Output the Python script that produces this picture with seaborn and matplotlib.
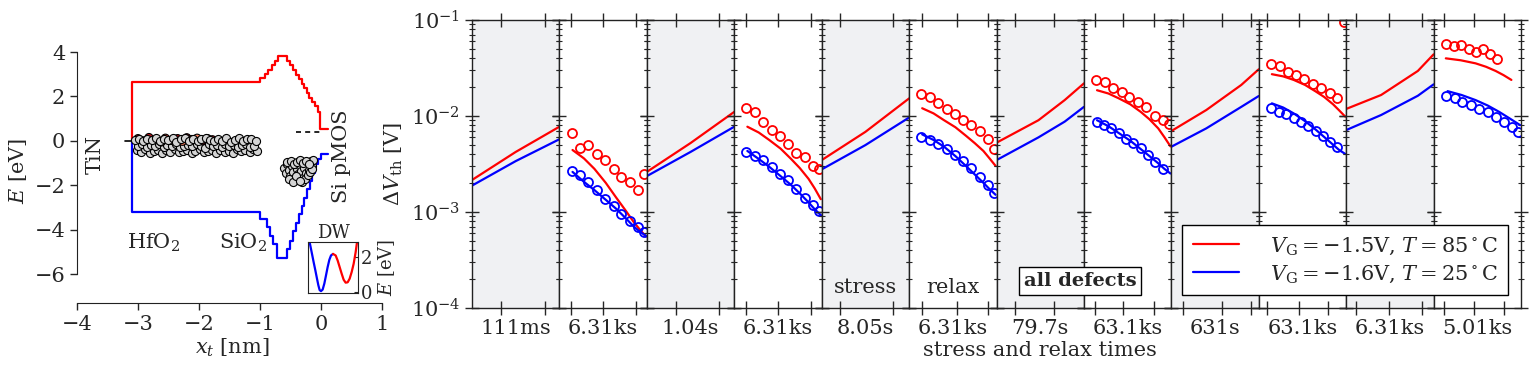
import numpy as np
import matplotlib
matplotlib.use("Agg")
import matplotlib.pyplot as plt
import seaborn as sns
from matplotlib.lines import Line2D

sns.set_style("ticks")
plt.rcParams['font.family'] = ['DejaVu Serif']
plt.rcParams['mathtext.fontset'] = 'dejavuserif'
plt.rcParams['font.size'] = 15
plt.rcParams['axes.edgecolor'] = '#222222'

RED = '#ff0000'
BLUE = '#0000ff'
GREY_BG = '#f0f1f3'

# ***** band diagram data ***** #
cb_x = [-3.10, -3.10, -1.00, -0.918, -0.864, -0.808, -0.754, -0.700, -0.562, -0.508, -0.454,
        -0.410, -0.361, -0.316, -0.274, -0.234, -0.192, -0.143, -0.098, -0.054, -0.016, 0.12]
cb_e = [0.0, 2.63, 2.81, 3.00, 3.20, 3.41, 3.60, 3.80, 3.60, 3.41, 3.20,
        2.96, 2.78, 2.55, 2.36, 2.15, 1.95, 1.76, 1.55, 1.28, 0.55, 0.55]
vb_x = [-3.10, -3.10, -1.00, -0.891, -0.836, -0.781, -0.727, -0.562, -0.508, -0.454, -0.410,
        -0.361, -0.316, -0.274, -0.234, -0.180, -0.143, -0.098, -0.044, 0.0, 0.12]
vb_e = [0.0, -3.20, -3.53, -3.90, -4.28, -4.65, -5.26, -4.88, -4.50, -4.05, -3.68,
        -3.30, -2.93, -2.55, -2.18, -1.80, -1.43, -1.05, -0.83, -0.57, -0.57]

# defects in HfO2 (three bands) and SiO2
hf_top_x = [-3.05, -2.98, -2.91, -2.85, -2.77, -2.70, -2.64, -2.57, -2.50, -2.43, -2.37, -2.29, -2.23, -2.16, -2.09,
            -2.02, -1.96, -1.89, -1.82, -1.75, -1.69, -1.62, -1.55, -1.48, -1.41, -1.35, -1.28, -1.21, -1.14, -1.07]
hf_top_e = [0.02, 0.10, -0.02, 0.08, 0.03, 0.14, 0.00, 0.09, 0.05, 0.13, -0.03, 0.08, 0.12, 0.01, 0.10,
            -0.01, 0.09, 0.13, 0.04, -0.02, 0.08, 0.01, 0.11, -0.04, 0.05, 0.12, 0.00, 0.07, 0.10, -0.02]
hf_mid_x = [-3.00, -2.93, -2.86, -2.79, -2.72, -2.65, -2.58, -2.52, -2.45, -2.38, -2.31, -2.24, -2.18, -2.11, -2.04,
            -1.97, -1.90, -1.84, -1.77, -1.70, -1.63, -1.57, -1.50, -1.43, -1.36, -1.30, -1.23, -1.16, -1.09]
hf_mid_e = [-0.22, -0.16, -0.27, -0.19, -0.24, -0.14, -0.29, -0.18, -0.23, -0.15, -0.28, -0.21, -0.17, -0.25, -0.13,
            -0.22, -0.30, -0.16, -0.24, -0.19, -0.28, -0.15, -0.23, -0.18, -0.27, -0.20, -0.14, -0.29, -0.22]
hf_low_x = [-3.02, -2.95, -2.88, -2.81, -2.74, -2.67, -2.60, -2.54, -2.47, -2.40, -2.33, -2.26, -2.19, -2.12, -2.06,
            -1.99, -1.92, -1.85, -1.79, -1.72, -1.65, -1.58, -1.51, -1.45, -1.38, -1.31, -1.24, -1.17, -1.11, -1.05]
hf_low_e = [-0.42, -0.50, -0.36, -0.53, -0.45, -0.39, -0.55, -0.43, -0.49, -0.36, -0.52, -0.46, -0.40, -0.54, -0.44,
            -0.37, -0.51, -0.47, -0.42, -0.56, -0.39, -0.50, -0.44, -0.53, -0.38, -0.47, -0.43, -0.52, -0.36, -0.45]
hf_act_x = [-3.00, -2.90, -2.82, -2.71, -2.62, -2.55, -2.46, -2.35, -2.27, -2.20, -2.12, -2.03, -1.95, -1.86, -1.78]
hf_act_e = [0.10, 0.00, 0.15, 0.05, -0.05, 0.12, 0.02, 0.10, -0.02, 0.14, 0.06, 0.12, 0.00, 0.10, 0.05]
hf_act_w = [0.9, 0.5, 0.8, 0.35, 0.95, 0.6, 0.3, 0.85, 0.45, 0.9, 0.7, 0.4, 0.95, 0.55, 0.8]
si_x = [-0.60, -0.58, -0.55, -0.52, -0.50, -0.47, -0.45, -0.42, -0.40, -0.38, -0.36, -0.33, -0.30, -0.28, -0.25,
        -0.22, -0.20, -0.17, -0.15, -0.13, -0.56, -0.49, -0.44, -0.39, -0.34, -0.31, -0.26, -0.21, -0.18, -0.14,
        -0.53, -0.46, -0.41, -0.35, -0.29, -0.24, -0.19]
si_e = [-1.20, -1.45, -1.05, -1.30, -1.60, -1.15, -1.40, -1.75, -1.25, -1.50, -1.10, -1.35, -1.65, -1.20, -1.45,
        -1.00, -1.30, -0.90, -1.15, -0.85, -0.95, -0.90, -1.05, -0.95, -0.85, -1.85, -1.70, -1.55, -1.40, -1.25,
        -1.70, -1.85, -1.60, -1.80, -1.00, -0.90, -1.05]

# double well inset
dw_blue_x = [0.033, 0.08, 0.113, 0.147, 0.18, 0.207, 0.233, 0.26, 0.293, 0.327, 0.36, 0.393, 0.427, 0.46, 0.50]
dw_blue_e = [2.86, 2.19, 1.71, 1.24, 0.76, 0.38, 0.10, 0.04, 0.13, 0.48, 0.95, 1.43, 1.85, 2.10, 2.19]
dw_red_x = [0.50, 0.553, 0.593, 0.633, 0.673, 0.713, 0.753, 0.793, 0.833, 0.873, 0.913, 0.953, 0.98]
dw_red_e = [2.19, 2.10, 1.81, 1.43, 1.05, 0.70, 0.53, 0.55, 0.76, 1.14, 1.62, 2.29, 2.86]

# ***** stress / relax data ***** #
panel_labels = ["111ms", "6.31ks", "1.04s", "6.31ks", "8.05s", "6.31ks",
                "79.7s", "63.1ks", "631s", "63.1ks", "6.31ks", "5.01ks"]

stress_x = [[0, 0.5, 1], [0, 0.5, 1], [0, 0.5, 1],
            [0, 0.48, 0.78, 1], [0, 0.4, 0.8, 1], [0, 0.4, 0.82, 1]]
stress_red = [[2.14e-3, 4.2e-3, 7.7e-3],
              [2.6e-3, 5.2e-3, 1.1e-2],
              [3.45e-3, 6.8e-3, 1.52e-2],
              [5.24e-3, 9.0e-3, 1.46e-2, 2.18e-2],
              [6.94e-3, 1.15e-2, 2.1e-2, 3.06e-2],
              [1.18e-2, 1.65e-2, 2.94e-2, 4.38e-2]]
stress_blue = [[1.87e-3, 3.37e-3, 5.7e-3],
               [2.35e-3, 4.2e-3, 7.7e-3],
               [2.76e-3, 4.95e-3, 9.6e-3],
               [3.45e-3, 5.96e-3, 8.7e-3, 1.24e-2],
               [4.76e-3, 7.4e-3, 1.24e-2, 1.61e-2],
               [7.1e-3, 1.02e-2, 1.62e-2, 2.13e-2]]

relax_x = [0.15, 0.28, 0.40, 0.53, 0.65, 0.75, 0.85, 0.92, 0.99]
relax_red_x = [relax_x, relax_x, relax_x, relax_x, relax_x, [0.14, 0.31, 0.48, 0.60, 0.71, 0.80, 0.89]]
relax_blue_x = [relax_x, relax_x, relax_x, relax_x, relax_x, [0.16, 0.32, 0.48, 0.62, 0.75, 0.87, 0.99]]
relax_red = [[4.4e-3, 3.6e-3, 2.8e-3, 2.0e-3, 1.4e-3, 1.05e-3, 7.8e-4, 6.5e-4, 5.5e-4],
             [7.7e-3, 6.7e-3, 5.6e-3, 4.55e-3, 3.55e-3, 2.85e-3, 2.2e-3, 1.75e-3, 1.35e-3],
             [1.2e-2, 1.06e-2, 9.0e-3, 7.6e-3, 6.2e-3, 5.2e-3, 4.3e-3, 3.6e-3, 3.0e-3],
             [1.85e-2, 1.71e-2, 1.52e-2, 1.32e-2, 1.1e-2, 9.2e-3, 7.4e-3, 6.0e-3, 4.8e-3],
             [2.72e-2, 2.58e-2, 2.37e-2, 2.1e-2, 1.8e-2, 1.57e-2, 1.32e-2, 1.14e-2, 9.8e-3],
             [3.98e-2, 3.8e-2, 3.53e-2, 3.25e-2, 2.94e-2, 2.66e-2, 2.37e-2]]
relax_blue = [[2.6e-3, 2.05e-3, 1.68e-3, 1.33e-3, 1.07e-3, 8.7e-4, 7.0e-4, 6.2e-4, 5.6e-4],
              [4.3e-3, 3.55e-3, 2.94e-3, 2.35e-3, 1.9e-3, 1.55e-3, 1.25e-3, 1.06e-3, 9.2e-4],
              [6.4e-3, 5.6e-3, 4.76e-3, 3.8e-3, 3.0e-3, 2.45e-3, 2.0e-3, 1.72e-3, 1.5e-3],
              [9.0e-3, 7.8e-3, 6.6e-3, 5.5e-3, 4.5e-3, 3.8e-3, 3.2e-3, 2.8e-3, 2.5e-3],
              [1.35e-2, 1.22e-2, 1.06e-2, 8.8e-3, 7.2e-3, 6.0e-3, 5.0e-3, 4.4e-3, 4.0e-3],
              [1.81e-2, 1.65e-2, 1.46e-2, 1.28e-2, 1.1e-2, 9.4e-3, 8.0e-3]]

# measured points
meas_x_a = [0.14, 0.24, 0.33, 0.43, 0.52, 0.62, 0.71, 0.81, 0.90, 0.97]
meas_x_b = [0.145, 0.23, 0.31, 0.40, 0.48, 0.56, 0.65, 0.73, 0.81, 0.90]
meas_red_x = [meas_x_a, meas_x_a, meas_x_a, meas_x_a, meas_x_a, meas_x_b[:8]]
meas_blue_x = [meas_x_a, meas_x_a, meas_x_a, meas_x_b, meas_x_b, meas_x_a]
meas_red = [[6.7e-3, 4.6e-3, 4.95e-3, 3.96e-3, 3.5e-3, 2.76e-3, 2.28e-3, 2.02e-3, 1.7e-3, 2.46e-3],
            [1.21e-2, 1.09e-2, 8.6e-3, 7.1e-3, 6.2e-3, 5.04e-3, 4.06e-3, 3.69e-3, 2.99e-3, 2.8e-3],
            [1.68e-2, 1.56e-2, 1.35e-2, 1.18e-2, 1.04e-2, 9.0e-3, 8.0e-3, 6.94e-3, 5.73e-3, 4.5e-3],
            [2.37e-2, 2.24e-2, 1.97e-2, 1.78e-2, 1.56e-2, 1.40e-2, 1.23e-2, 1.0e-2, 9.0e-3, 8.2e-3],
            [3.47e-2, 3.33e-2, 2.89e-2, 2.67e-2, 2.42e-2, 2.13e-2, 1.97e-2, 1.74e-2, 1.55e-2, 9.6e-2],
            [5.6e-2, 5.4e-2, 5.5e-2, 4.95e-2, 4.67e-2, 4.95e-2, 4.38e-2, 3.89e-2]]
meas_blue = [[2.63e-3, 2.39e-3, 2.03e-3, 1.69e-3, 1.37e-3, 1.14e-3, 9.4e-4, 8.0e-4, 7.0e-4, 6.2e-4],
             [4.22e-3, 3.8e-3, 3.45e-3, 2.94e-3, 2.5e-3, 2.14e-3, 1.71e-3, 1.38e-3, 1.17e-3, 1.02e-3],
             [6.05e-3, 5.6e-3, 5.07e-3, 4.5e-3, 3.9e-3, 3.4e-3, 2.86e-3, 2.31e-3, 1.89e-3, 1.57e-3],
             [8.7e-3, 8.0e-3, 7.4e-3, 6.6e-3, 5.8e-3, 5.24e-3, 4.58e-3, 3.9e-3, 3.3e-3, 2.76e-3],
             [1.2e-2, 1.1e-2, 1.04e-2, 9.4e-3, 8.6e-3, 7.8e-3, 7.0e-3, 6.15e-3, 5.37e-3, 4.69e-3],
             [1.62e-2, 1.52e-2, 1.4e-2, 1.3e-2, 1.18e-2, 1.09e-2, 9.8e-3, 8.7e-3, 7.7e-3, 6.8e-3]]

panel_ticks = [[0.33, 0.83], [0.13, 0.5, 0.88], [0.33, 0.83], [0.13, 0.5, 0.88],
               [0.21, 0.82], [0.145, 0.545, 0.905], [0.21, 0.66], [0.13, 0.45, 0.8],
               [0.13, 0.58, 0.91], [0.1, 0.46, 0.79], [0.11, 0.49, 0.87], [0.12, 0.46, 0.8]]

W, H = 1529, 376
fig = plt.figure(figsize=(W / 100, H / 100), dpi=100)

# ***** band diagram ***** #
ax0 = fig.add_axes([77 / W, 1 - 303 / H, 311 / W, 264.3 / H])
ax0.step(cb_x, cb_e, where='post', color=RED, lw=1.6)
ax0.step(vb_x, vb_e, where='post', color=BLUE, lw=1.6)
ax0.plot([-3.21, -3.12], [0, 0], color='black', lw=1.2)
ax0.plot([-0.41, 0.0], [0.42, 0.42], color='black', lw=1.2, ls=(0, (3, 2.5)))
sc_kw = dict(s=34, edgecolors='black', linewidths=0.8, zorder=3)
ax0.scatter(hf_low_x, hf_low_e, c='#d4d4d4', **sc_kw)
ax0.scatter(hf_mid_x, hf_mid_e, c='#d4d4d4', **sc_kw)
ax0.scatter(hf_act_x, hf_act_e, c=hf_act_w, cmap='Reds', vmin=0, vmax=1, **sc_kw)
ax0.scatter(hf_top_x, hf_top_e, c='#d4d4d4', **sc_kw)
ax0.scatter(si_x, si_e, c='#d4d4d4', **sc_kw)
ax0.set_xlim(-4, 1.1)
ax0.set_ylim(-7.3, 4.6)
ax0.set_xticks([-4, -3, -2, -1, 0, 1])
ax0.set_yticks([-6, -4, -2, 0, 2, 4])
ax0.spines['left'].set_bounds(-6, 4)
ax0.spines['bottom'].set_bounds(-4, 1)
sns.despine(ax=ax0)
ax0.tick_params(direction='out', length=5, width=1)
ax0.set_xlabel("$x_t$ [nm]", labelpad=2)
ax0.set_ylabel("$E$ [eV]", labelpad=4)
ax0.text(-3.70, -0.63, "TiN", rotation=90, ha='center', va='center')
ax0.text(0.34, -0.68, "Si pMOS", rotation=90, ha='center', va='center')
ax0.text(-2.75, -4.6, "HfO$_2$", ha='center', va='center')
ax0.text(-1.28, -4.6, "SiO$_2$", ha='center', va='center')

# inset: double well
axi = fig.add_axes([308 / W, 1 - 292.7 / H, 50 / W, 50.4 / H])
axi.plot(dw_blue_x, dw_blue_e, color=BLUE, lw=1.6)
axi.plot(dw_red_x, dw_red_e, color=RED, lw=1.6)
axi.set_xlim(0, 1)
axi.set_ylim(-0.05, 2.86)
axi.set_xticks([])
axi.set_yticks([0, 2])
axi.yaxis.tick_right()
axi.yaxis.set_label_position('right')
axi.tick_params(axis='y', direction='in', length=3, labelsize=13, pad=2)
axi.set_ylabel("$E$ [eV]", fontsize=13, labelpad=3)
axi.set_title("DW", fontsize=13, pad=2)

# ***** stress / relax panels ***** #
gs = fig.add_gridspec(1, 12, left=472 / W, right=1521 / W, bottom=1 - 307.5 / H, top=1 - 20 / H, wspace=0)
axes = [fig.add_subplot(gs[0, i]) for i in range(12)]
for i, ax in enumerate(axes):
    k = i // 2
    if i % 2 == 0:
        ax.set_facecolor(GREY_BG)
        ax.plot(stress_x[k], stress_red[k], color=RED, lw=1.6)
        ax.plot(stress_x[k], stress_blue[k], color=BLUE, lw=1.6)
    else:
        ax.set_facecolor('white')
        ax.plot(relax_red_x[k], relax_red[k], color=RED, lw=1.6)
        ax.plot(relax_blue_x[k], relax_blue[k], color=BLUE, lw=1.6)
        ax.plot(meas_red_x[k], meas_red[k], 'o', mfc='none', mec=RED, ms=6.5, mew=1.3)
        ax.plot(meas_blue_x[k], meas_blue[k], 'o', mfc='none', mec=BLUE, ms=6.5, mew=1.3)
    ax.set_yscale('log')
    ax.set_ylim(1e-4, 1e-1)
    ax.set_xlim(0, 1)
    ax.set_xticks(panel_ticks[i])
    ax.tick_params(which='both', direction='inout', left=True, right=True, top=True, bottom=True,
                   labelbottom=False, labelleft=(i == 0))
    ax.tick_params(which='major', length=10, width=1)
    ax.tick_params(which='minor', length=4, width=0.8)
    ax.set_xlabel(panel_labels[i], labelpad=3)
    for s in ax.spines.values():
        s.set_linewidth(1.0)

axes[0].set_ylabel(r"$\Delta V_\mathrm{th}$ [V]", labelpad=4)
axes[4].text(0.5, 0.071, "stress", transform=axes[4].transAxes, ha='center', va='center')
axes[5].text(0.5, 0.071, "relax", transform=axes[5].transAxes, ha='center', va='center')
fig.text(1080 / W, 1 - 281 / H, "all defects", ha='center', va='center', weight='bold', fontsize=14,
         bbox=dict(facecolor='white', edgecolor='black', boxstyle='square,pad=0.25', lw=1))
fig.text(1040 / W, 1 - 350 / H, "stress and relax times", ha='center', va='center')

handles = [Line2D([], [], color=RED, lw=1.6), Line2D([], [], color=BLUE, lw=1.6)]
labels = [r"$V_\mathrm{G} = -1.5$V, $T = 85^\circ$C", r"$V_\mathrm{G} = -1.6$V, $T = 25^\circ$C"]
fig.legend(handles, labels, loc='lower right', bbox_to_anchor=(1508 / W, 1 - 295 / H),
           frameon=True, fancybox=False, edgecolor='black', framealpha=1, handlelength=2.2,
           handletextpad=1.5, borderpad=0.5, labelspacing=0.3, borderaxespad=0)

fig.savefig("out.png", dpi=100)
